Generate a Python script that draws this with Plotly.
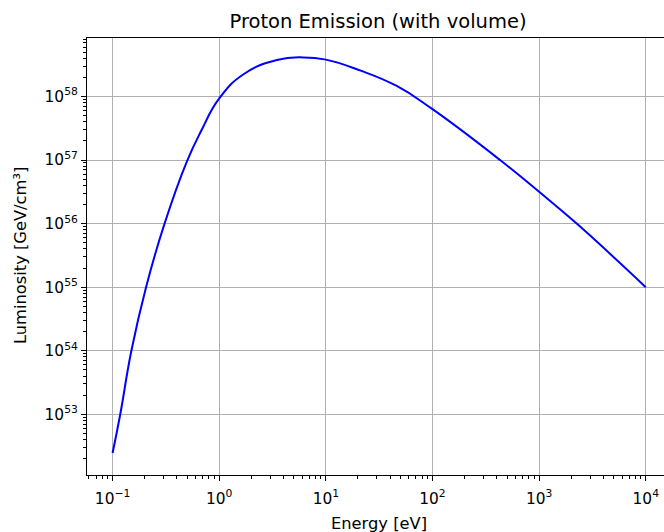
import plotly.graph_objects as go

# Data (energy in eV, luminosity in GeV/cm^3)
energy = [0.1, 0.118, 0.15, 0.206, 0.307, 0.498, 0.678, 1.0, 1.69, 3.47, 6.17,
          10.0, 20.9, 46.2, 100.0, 430.0, 1000.0, 2250.0, 10000.0]
log_lum = [52.39, 53.0, 54.0, 55.0, 56.0, 56.98, 57.46, 57.97, 58.35, 58.575, 58.615,
           58.58, 58.41, 58.165, 57.80, 57.0, 56.5, 56.0, 55.0]
luminosity = [10 ** v for v in log_lum]

x_tickvals = [0.1, 1, 10, 100, 1000, 10000]
x_ticktext = ["10<sup>−1</sup>", "10<sup>0</sup>", "10<sup>1</sup>",
              "10<sup>2</sup>", "10<sup>3</sup>", "10<sup>4</sup>"]
y_tickvals = [1e53, 1e54, 1e55, 1e56, 1e57, 1e58]
y_ticktext = ["10<sup>53</sup>", "10<sup>54</sup>", "10<sup>55</sup>",
              "10<sup>56</sup>", "10<sup>57</sup>", "10<sup>58</sup>"]

FONT = "DejaVu Sans"
W, H = 664, 532
L, R, T, B = 87, 0, 38, 57
pw = W - L - R
ph = H - T - B
TICK_FS, LABEL_FS, TITLE_FS = 15.4, 16.3, 19.5

fig = go.Figure()
fig.add_trace(go.Scatter(x=energy, y=luminosity, mode="lines",
                         line=dict(color="#0000ff", width=2, shape="spline", smoothing=1.3),
                         showlegend=False, hoverinfo="skip"))

fig.update_layout(
    width=W, height=H,
    margin=dict(l=L, r=R, t=T, b=B, pad=0),
    paper_bgcolor="white", plot_bgcolor="white",
    font=dict(family=FONT, size=14, color="black"),
    title=dict(text="Proton Emission (with volume)", x=378 / W, xref="container",
               xanchor="center", y=1 - 21 / H, yref="container", yanchor="middle",
               font=dict(family=FONT, size=TITLE_FS, color="black")),
    xaxis=dict(type="log", range=[-1.24, 4.171], tickvals=x_tickvals, ticktext=x_ticktext,
               ticks="outside", ticklen=5, tickwidth=1.1, tickcolor="black",
               showline=True, linecolor="black", linewidth=1.1, mirror=True,
               showgrid=True, gridcolor="#b0b0b0", gridwidth=1.1, zeroline=False,
               tickfont=dict(family=FONT, size=TICK_FS, color="black"),
               ticklabelstandoff=4,
               minor=dict(ticks="outside", ticklen=3, tickwidth=0.8, tickcolor="black",
                          dtick="D1", showgrid=False)),
    yaxis=dict(type="log", range=[52.045, 58.92], tickvals=y_tickvals, ticktext=y_ticktext,
               ticks="outside", ticklen=5, tickwidth=1.1, tickcolor="black",
               showline=True, linecolor="black", linewidth=1.1, mirror=False,
               showgrid=True, gridcolor="#b0b0b0", gridwidth=1.1, zeroline=False,
               tickfont=dict(family=FONT, size=TICK_FS, color="black"),
               minor=dict(ticks="outside", ticklen=3, tickwidth=0.8, tickcolor="black",
                          dtick="D1", showgrid=False)),
    annotations=[
        dict(text="Energy [eV]", x=(379 - L) / pw, y=(H - B - 523) / ph,
             xref="paper", yref="paper", xanchor="center", yanchor="middle",
             showarrow=False, font=dict(family=FONT, size=LABEL_FS, color="black")),
        dict(text="Luminosity [GeV/cm³]", x=(21 - L) / pw, y=(H - B - 256) / ph,
             xref="paper", yref="paper", showarrow=False, textangle=-90,
             xanchor="center", yanchor="middle",
             font=dict(family=FONT, size=LABEL_FS, color="black")),
    ],
)

fig.write_html("out.html", config={"displayModeBar": False},
               post_script="document.body.style.margin='0';document.body.style.overflow='hidden';")
